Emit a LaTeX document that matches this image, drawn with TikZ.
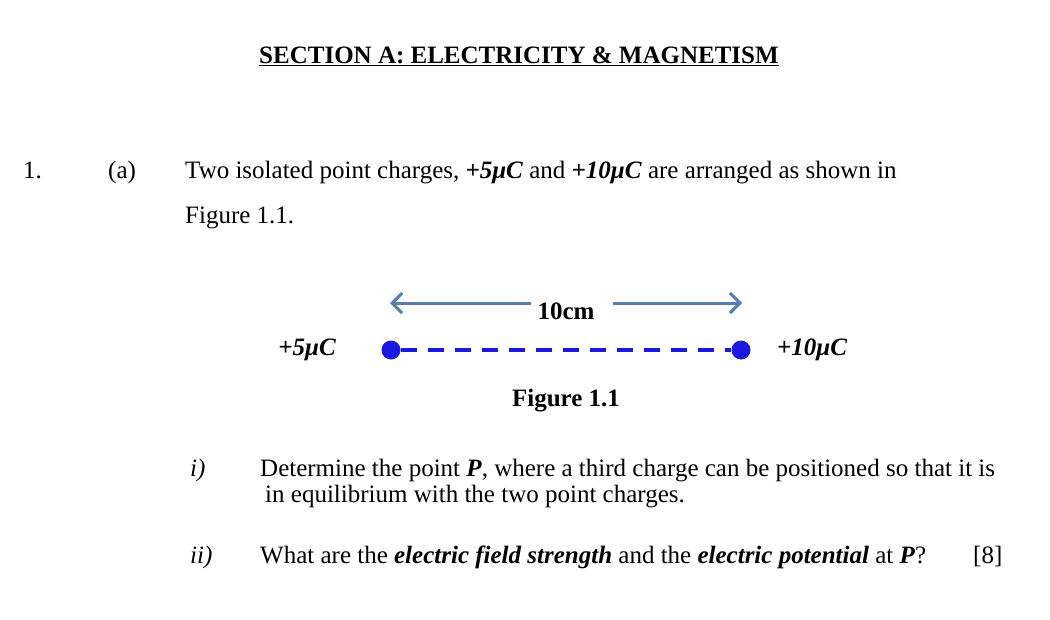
\documentclass[tikz,border=0pt]{standalone}
\usepackage{fontspec}
\setmainfont{Liberation Serif}
\usetikzlibrary{arrows.meta}
\definecolor{arr}{RGB}{85,125,175}
\definecolor{chg}{RGB}{25,25,225}
\begin{document}
\begin{tikzpicture}[x=1pt,y=-1pt,
  txt/.style={anchor=base west,inner sep=0pt,font=\fontsize{25}{30}\selectfont},
  lbl/.style={inner sep=0pt,font=\fontsize{25}{30}\selectfont\bfseries\itshape},
  dot/.style={circle,fill=chg,minimum size=19pt,inner sep=0pt}]
\useasboundingbox (0,0) rectangle (1050,619);
\node[txt,anchor=base] (title) at (519,63) {\bfseries\underline{SECTION A: ELECTRICITY \& MAGNETISM}};
\node[txt] (n1) at (23,178) {1.};
\node[txt] (na) at (108,178) {(a)};
\node[txt] (l1) at (185,178) {Two isolated point charges, \textbf{\textit{+5μC}} and \textbf{\textit{+10μC}} are arranged as shown in};
\node[txt] (l2) at (185,223) {Figure 1.1.};
\node[dot] (q1) at (391,350) {};
\node[dot] (q2) at (741,350) {};
\draw[chg,line width=3.5pt,dash pattern=on 16pt off 11pt] (q1) -- (q2);
\node[lbl,anchor=east] (t1) at (336,350) {+5μC};
\node[lbl,anchor=west] (t2) at (777,350) {+10μC};
\node[inner sep=0pt,font=\fontsize{25}{30}\selectfont\bfseries] (d) at (566,311) {10cm};
\coordinate (aL) at (390,303);
\coordinate (aR) at (742,303);
\draw[arr,line width=3pt,-{Straight Barb[length=10pt,width=20pt]}] (d.west|-aL) ++(-6,0) -- (aL);
\draw[arr,line width=3pt,-{Straight Barb[length=10pt,width=20pt]}] (d.east|-aR) ++(18,0) -- (aR);
\node[inner sep=0pt,font=\fontsize{25}{30}\selectfont\bfseries] (fig) at (566,401) {Figure 1.1};
\node[txt] (ri) at (190,476) {\textit{i)}};
\node[txt] (q1a) at (260,476) {Determine the point \textbf{\textit{P}}, where a third charge can be positioned so that it is};
\node[txt] (q1b) at (265,502) {in equilibrium with the two point charges.};
\node[txt] (rii) at (190,563) {\textit{ii)}};
\node[txt] (q2a) at (260,563) {What are the \textbf{\textit{electric field strength}} and the \textbf{\textit{electric potential}} at \textbf{\textit{P}}?};
\node[txt] (mk) at (973,563) {[8]};
\end{tikzpicture}
\end{document}
